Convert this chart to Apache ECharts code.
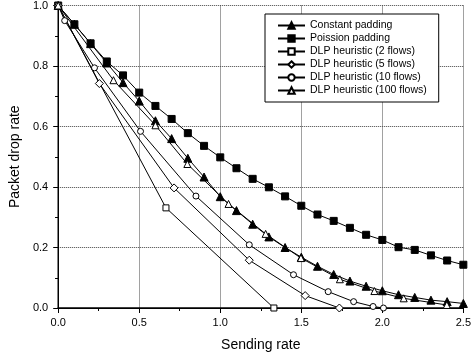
<!DOCTYPE html>
<html>
<head>
<meta charset="utf-8">
<script src="https://cdn.jsdelivr.net/npm/echarts@6/dist/echarts.min.js"></script>
<style>
	html, body {margin: 0; padding: 0; background: #fff;}
	#chart {width: 474px; height: 362px;}
</style>
</head>
<body>
<div id="chart"></div>
<script>
// sending rate steps shared by the two padding curves
const rateSteps = [0, 0.1, 0.2, 0.3, 0.4, 0.5, 0.6, 0.7, 0.8, 0.9, 1.0, 1.1, 1.2, 1.3, 1.4, 1.5, 1.6, 1.7, 1.8, 1.9, 2.0, 2.1, 2.2, 2.3, 2.4, 2.5];
const constantDrop = [1.0, 0.938, 0.874, 0.81, 0.745, 0.684, 0.619, 0.56, 0.495, 0.433, 0.368, 0.322, 0.277, 0.235, 0.2, 0.168, 0.138, 0.111, 0.089, 0.072, 0.057, 0.044, 0.035, 0.026, 0.021, 0.015];
const poissonDrop = [1.0, 0.938, 0.875, 0.815, 0.769, 0.712, 0.668, 0.625, 0.578, 0.536, 0.498, 0.462, 0.427, 0.399, 0.369, 0.338, 0.309, 0.288, 0.265, 0.242, 0.225, 0.201, 0.192, 0.174, 0.157, 0.143];

const dlp2Rate = [0, 0.665, 1.331];
const dlp2Drop = [1.0, 0.331, 0.0];
const dlp5Rate = [0, 0.254, 0.715, 1.179, 1.524, 1.735];
const dlp5Drop = [1.0, 0.742, 0.397, 0.158, 0.041, 0.0];
const dlp10Rate = [0, 0.04, 0.224, 0.508, 0.85, 1.179, 1.452, 1.666, 1.823, 1.943, 2.007];
const dlp10Drop = [1.0, 0.95, 0.794, 0.584, 0.37, 0.209, 0.11, 0.054, 0.021, 0.005, 0.0];
const dlp100Rate = [0, 0.341, 0.6, 0.797, 1.051, 1.28, 1.498, 1.738, 1.951, 2.132, 2.398];
const dlp100Drop = [1.0, 0.753, 0.604, 0.476, 0.344, 0.245, 0.165, 0.095, 0.056, 0.032, 0.01];

const font = 'Liberation Sans, Arial, sans-serif';

function zip(xs, ys) {
	return xs.map((x, i) => [x, ys[i]]);
}

function lineSeries(name, xs, ys, symbol, size, filled) {
	return {
		name,
		type: 'line',
		data: zip(xs, ys),
		symbol,
		symbolSize: size,
		showAllSymbol: true,
		lineStyle: {color: '#000', width: 1},
		itemStyle: {color: filled ? '#000' : '#fff', borderColor: '#000', borderWidth: 1},
		emphasis: {disabled: true},
	};
}

const chart = echarts.init(document.getElementById('chart'), null, {renderer: 'canvas'});

const hiddenAxisBits = {
	axisLabel: {show: false},
	splitLine: {show: false},
	axisLine: {lineStyle: {color: '#000', width: 1}},
	axisTick: {inside: true, length: 4, lineStyle: {color: '#000'}},
	minorTick: {show: true, splitNumber: 2, length: 3, lineStyle: {color: '#000'}},
};

chart.setOption({
	animation: false,
	textStyle: {fontFamily: font},
	grid: {left: 56, right: 8, top: 2, bottom: 54, containLabel: false},
	legend: {
		orient: 'vertical',
		left: 265,
		top: 14,
		padding: [5, 12, 5, 12],
		itemWidth: 27,
		itemHeight: 8,
		itemGap: 0,
		backgroundColor: '#fff',
		borderColor: '#000',
		borderWidth: 1,
		textStyle: {fontFamily: font, fontSize: 10.5, color: '#000', lineHeight: 13},
		data: ['Constant padding', 'Poission padding', 'DLP heuristic (2 flows)', 'DLP heuristic (5 flows)', 'DLP heuristic (10 flows)', 'DLP heuristic (100 flows)'],
	},
	xAxis: [
		{
			type: 'value',
			min: 0,
			max: 2.5,
			interval: 0.5,
			name: 'Sending rate',
			nameLocation: 'middle',
			nameGap: 30,
			nameTextStyle: {fontFamily: font, fontSize: 14, color: '#000'},
			axisLine: {lineStyle: {color: '#000', width: 1.5}},
			axisTick: {inside: false, length: 5, lineStyle: {color: '#000'}},
			minorTick: {show: true, splitNumber: 2, length: 3, lineStyle: {color: '#000'}},
			axisLabel: {margin: 9, fontFamily: font, fontSize: 11, color: '#000', formatter: v => v.toFixed(1)},
			splitLine: {show: true, lineStyle: {type: 'dotted', color: '#444', width: 1}},
		},
		Object.assign({type: 'value', min: 0, max: 2.5, interval: 0.5, position: 'top'}, hiddenAxisBits),
	],
	yAxis: [
		{
			type: 'value',
			min: 0,
			max: 1,
			interval: 0.2,
			name: 'Packet drop rate',
			nameLocation: 'middle',
			nameGap: 35,
			nameTextStyle: {fontFamily: font, fontSize: 14, color: '#000'},
			axisLine: {show: true, lineStyle: {color: '#555', width: 1.5}},
			axisTick: {show: true, inside: false, length: 5, lineStyle: {color: '#000'}},
			minorTick: {show: true, splitNumber: 2, length: 3, lineStyle: {color: '#000'}},
			axisLabel: {margin: 10, fontFamily: font, fontSize: 11, color: '#000', formatter: v => v.toFixed(1)},
			splitLine: {show: true, lineStyle: {type: 'dotted', color: '#444', width: 1}},
		},
		Object.assign({type: 'value', min: 0, max: 1, interval: 0.2, position: 'right'}, hiddenAxisBits),
	],
	series: [
		lineSeries('Poission padding', rateSteps, poissonDrop, 'rect', 7, true),
		lineSeries('Constant padding', rateSteps, constantDrop, 'triangle', 8, true),
		lineSeries('DLP heuristic (2 flows)', dlp2Rate, dlp2Drop, 'rect', 6, false),
		lineSeries('DLP heuristic (5 flows)', dlp5Rate, dlp5Drop, 'diamond', 8, false),
		lineSeries('DLP heuristic (10 flows)', dlp10Rate, dlp10Drop, 'circle', 6, false),
		lineSeries('DLP heuristic (100 flows)', dlp100Rate, dlp100Drop, 'triangle', 7, false),
	],
});
</script>
</body>
</html>
